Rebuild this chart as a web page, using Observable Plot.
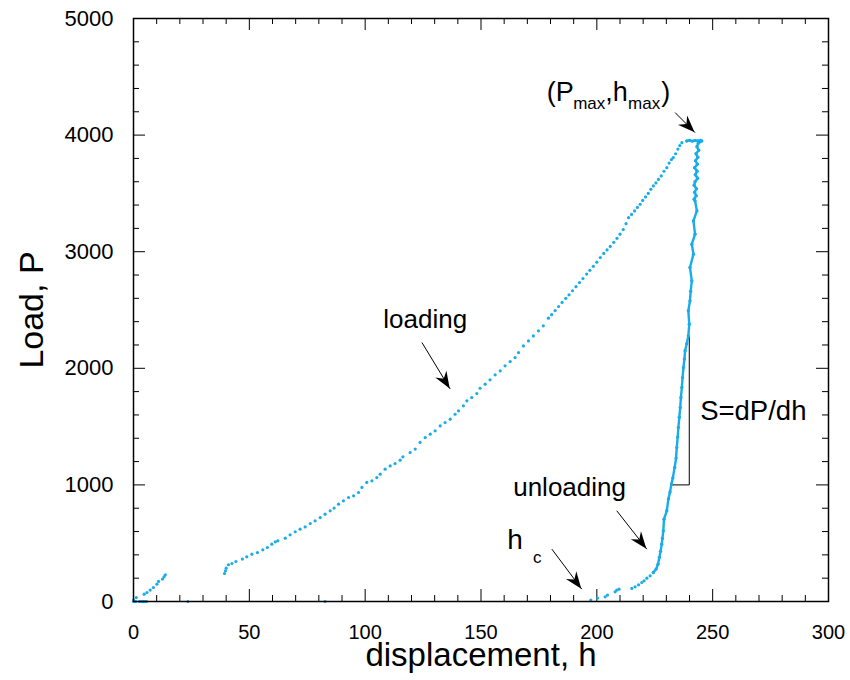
<!DOCTYPE html>
<html>
<head>
<meta charset="utf-8">
<script src="https://cdn.jsdelivr.net/npm/d3@7"></script>
<script src="https://cdn.jsdelivr.net/npm/@observablehq/plot@0.6"></script>
<style>
  html, body { margin: 0; padding: 0; background: #fff; }
  #chart svg { font-family: "Liberation Sans", Arial, sans-serif; }
</style>
</head>
<body>
<div id="chart"></div>
<script>
// ---- data: [displacement h, load P] ----
const initialSegment = [
  [0,0],[0.5,0],[1,0],[2.5,0],[3,0],[3.5,0],[4,0],[4.5,0],[5,0],[5.6,0],
  [0,12],[1.2,34],[4.6,63],[5.8,77],[7.2,98],[8.6,120],[10.1,149],[10.8,172],[12.5,192],[13.2,212],[13.7,229]
];
const strayPoints = [[23.5,0],[82.7,0]];
const loading = [
  [39.3,240],[39.7,263],[40.0,286],[41.0,315],[42.5,326],[44.2,343],[47.0,364],[48.9,383],[51.1,406],[53.5,420],
  [55.8,443],[57.8,463],[59.7,492],[61.2,512],[62.3,520],[65.5,543],[67.6,572],[69.8,598],[71.9,620],[74.1,640],
  [76.3,669],[78.4,692],[80.6,720],[82.7,749],[84.9,778],[86.6,801],[88.5,835],[90.6,863],[92.8,892],[95.0,906],
  [97.1,935],[98.6,978],[100.7,1021],[102.9,1035],[105.0,1063],[106.5,1092],[108.6,1135],[110.8,1163],[112.9,1183],
  [115.1,1212],[116.3,1241],[119.4,1278],[121.6,1307],[123.7,1364],[125.9,1406],[128.1,1435],[130.2,1464],
  [132.4,1506],[134.5,1535],[136.7,1564],[138.8,1606],[140.3,1635],[142.4,1678],[143.9,1721],[146.0,1749],
  [148.2,1784],[149.6,1829],[151.8,1864],[153.9,1901],[156.1,1944],[158.3,1978],[160.4,2021],[162.6,2058],
  [164.7,2092],[166.2,2135],[168.3,2192],[170.5,2235],[172.6,2278],[174.8,2321],[176.9,2364],[179.1,2430],
  [180.5,2460],[182,2495],[183.5,2530],[185,2565],[186.6,2600],[188,2630],[189.5,2665],[191,2700],[192.5,2735],
  [194,2770],[195.6,2808],[197,2840],[198.5,2875],[200,2910],[201.5,2950],[203,2985],[204.4,3015],[205.8,3045],
  [207.3,3080],[208.7,3115],[210,3150],[211.4,3190],[212.6,3240],[213.7,3292],[215,3320],[216.3,3350],[217.5,3380],
  [218.7,3407],[219.8,3440],[221,3470],[222.2,3500],[223.3,3535],[224.4,3564],[225.5,3590],[226.6,3620],
  [227.8,3650],[229,3690],[230.2,3721],[231.2,3760],[232.2,3790],[233,3807],[234,3840],[235,3880],[235.8,3910],[236.7,3935]
];
const unloading = [
  [238.8,3950],[240,3955],[241.2,3948],[242.4,3955],[243.6,3950],[244.8,3955],[245.3,3950],
  [243.8,3930],[243.2,3900],[244.0,3870],[242.8,3840],[243.6,3810],[242.6,3780],[243.4,3750],[242.2,3720],
  [243.3,3690],[242.5,3660],[243.5,3630],[242.4,3600],[242.0,3570],[243.0,3540],[242.2,3510],[242.9,3480],
  [242.0,3450],[242.4,3435],[243.2,3350],[241.7,3264],[242.4,3150],[241.0,3064],[241.7,2979],[240.2,2864],
  [241.0,2750],[240.5,2660],[240.2,2578],[239.5,2493],[239.9,2378],[239.5,2278],[238.8,2210],[238.1,2150],
  [237.8,2080],[237.4,2006],[237.0,1920],[236.7,1835],[236.3,1750],[236.0,1663],[235.6,1580],[235.2,1492],
  [234.9,1410],[234.5,1320],[234.2,1230],[233.6,1149],[232.8,1060],[232.2,1007],[231.6,940],[230.9,880],
  [230.2,778],[229.0,706],[228.7,606],[228.3,540],[228.0,492],[227.5,430],[227.0,377],[226.4,320],[225.6,278],[224.4,249]
];
const unloadingTail = [
  [223.0,220],[221.6,200],[220.4,177],[219.4,163],[218.0,143],[216.5,126],[215.1,112],
  [209.6,106],[208.6,98],[207.9,83],[204.6,55],[203.6,40],[200.3,29],[197.4,12]
];
// stiffness construction line S = dP/dh
const slopeLine = [[232.4,1000],[239.9,1000],[239.9,2278]];

// axis ticks
const xTicks = [0,50,100,150,200,250,300];
const yTicks = [0,1000,2000,3000,4000,5000];
const xMinor = d3.range(0,301,10).filter(v => v % 50 !== 0);
const yMinor = d3.range(0,5001,200).filter(v => v % 1000 !== 0);

// annotations (data coordinates)
const labels = [
  {text:"loading",   h:107.8, p:2349, size:26},
  {text:"unloading", h:163.9, p:906,  size:26},
  {text:"h",         h:161.3, p:449,  size:28},
  {text:"c",         h:172.4, p:334,  size:17},
  {text:"(P",        h:178.4, p:4293, size:27},
  {text:"max",       h:189.8, p:4224, size:17},
  {text:",h",        h:203.6, p:4293, size:27},
  {text:"max",       h:213.5, p:4224, size:17},
  {text:")",         h:227.8, p:4293, size:27},
  {text:"S=dP/dh",   h:244.6, p:1555, size:27.5}
];
const arrows = [
  {h1:124.5, p1:2221, h2:136.7, p2:1822},
  {h1:208.6, p1:778,  h2:221.6, p2:449},
  {h1:180.6, p1:449,  h2:193.5, p2:106},
  {h1:233.8, p1:4193, h2:242.4, p2:4021}
];

const W = 850, H = 680, mL = 133, mR = 22, mT = 18, mB = 79;
const fw = W - mL - mR, fh = H - mT - mB;
const blue = "#19acea";
const majorLen = 12, minorLen = 6;

const plot = Plot.plot({
  width: W, height: H,
  marginLeft: mL, marginRight: mR, marginTop: mT, marginBottom: mB,
  x: {domain: [0,300], axis: null},
  y: {domain: [0,5000], axis: null},
  marks: [
    // inward ticks: bottom, top, left, right
    Plot.ruleX(xTicks, {x: d => d, insetTop: fh - majorLen, stroke: "black", strokeWidth: 1}),
    Plot.ruleX(xMinor, {x: d => d, insetTop: fh - minorLen, stroke: "black", strokeWidth: 1}),
    Plot.ruleX(xTicks, {x: d => d, insetBottom: fh - majorLen, stroke: "black", strokeWidth: 1}),
    Plot.ruleX(xMinor, {x: d => d, insetBottom: fh - minorLen, stroke: "black", strokeWidth: 1}),
    Plot.ruleY(yTicks, {y: d => d, insetRight: fw - majorLen, stroke: "black", strokeWidth: 1}),
    Plot.ruleY(yMinor, {y: d => d, insetRight: fw - minorLen, stroke: "black", strokeWidth: 1}),
    Plot.ruleY(yTicks, {y: d => d, insetLeft: fw - majorLen, stroke: "black", strokeWidth: 1}),
    Plot.ruleY(yMinor, {y: d => d, insetLeft: fw - minorLen, stroke: "black", strokeWidth: 1}),
    Plot.axisX(xTicks, {anchor: "bottom", tickSize: 0, tickPadding: 23, fontSize: 20, tickFormat: d => String(d), label: null}),
    Plot.axisY(yTicks, {anchor: "left", tickSize: 0, tickPadding: 20, fontSize: 22, tickFormat: d => String(d), label: null}),
    // construction line
    Plot.line(slopeLine, {x: d => d[0], y: d => d[1], stroke: "black", strokeWidth: 1}),
    // data
    Plot.line(unloading, {x: d => d[0], y: d => d[1], stroke: blue, strokeWidth: 2.4}),
    Plot.dot(unloading, {x: d => d[0], y: d => d[1], r: 1.7, fill: blue}),
    Plot.dot(unloadingTail, {x: d => d[0], y: d => d[1], r: 1.6, fill: blue}),
    Plot.dot(loading, {x: d => d[0], y: d => d[1], r: 1.6, fill: blue}),
    Plot.dot(initialSegment, {x: d => d[0], y: d => d[1], r: 1.6, fill: blue}),
    Plot.dot(strayPoints, {x: d => d[0], y: d => d[1], r: 1.6, fill: blue}),
    // annotations
    Plot.link(arrows, {x1: "h1", y1: "p1", x2: "h2", y2: "p2", stroke: "black", strokeWidth: 1}),
    Plot.text(labels, {x: "h", y: "p", text: "text", fontSize: "size", textAnchor: "start", lineAnchor: "bottom", fill: "black"}),
    // axis titles
    Plot.text(["displacement, h"], {frameAnchor: "bottom", text: d => d, textAnchor: "middle", dy: 64, lineAnchor: "bottom", fontSize: 33, fill: "black"}),
    Plot.text(["Load, P"], {frameAnchor: "left", text: d => d, textAnchor: "middle", dx: -91, rotate: -90, lineAnchor: "bottom", fontSize: 34, fill: "black"}),
    Plot.frame({stroke: "black", strokeWidth: 1.5})
  ]
});

// filled barbed arrowheads, placed through the plot's own scales
const sx = plot.scale("x"), sy = plot.scale("y");
const headG = d3.select(plot).append("g").attr("aria-label", "arrowheads");
for (const a of arrows) {
  const x1 = sx.apply(a.h1), y1 = sy.apply(a.p1), x2 = sx.apply(a.h2), y2 = sy.apply(a.p2);
  const ang = Math.atan2(y2 - y1, x2 - x1) * 180 / Math.PI;
  headG.append("path")
    .attr("d", "M0,0L-17,-6.5L-11.5,0L-17,6.5Z")
    .attr("transform", `translate(${x2},${y2}) rotate(${ang})`)
    .attr("fill", "black");
}

document.getElementById("chart").append(plot);
</script>
</body>
</html>
